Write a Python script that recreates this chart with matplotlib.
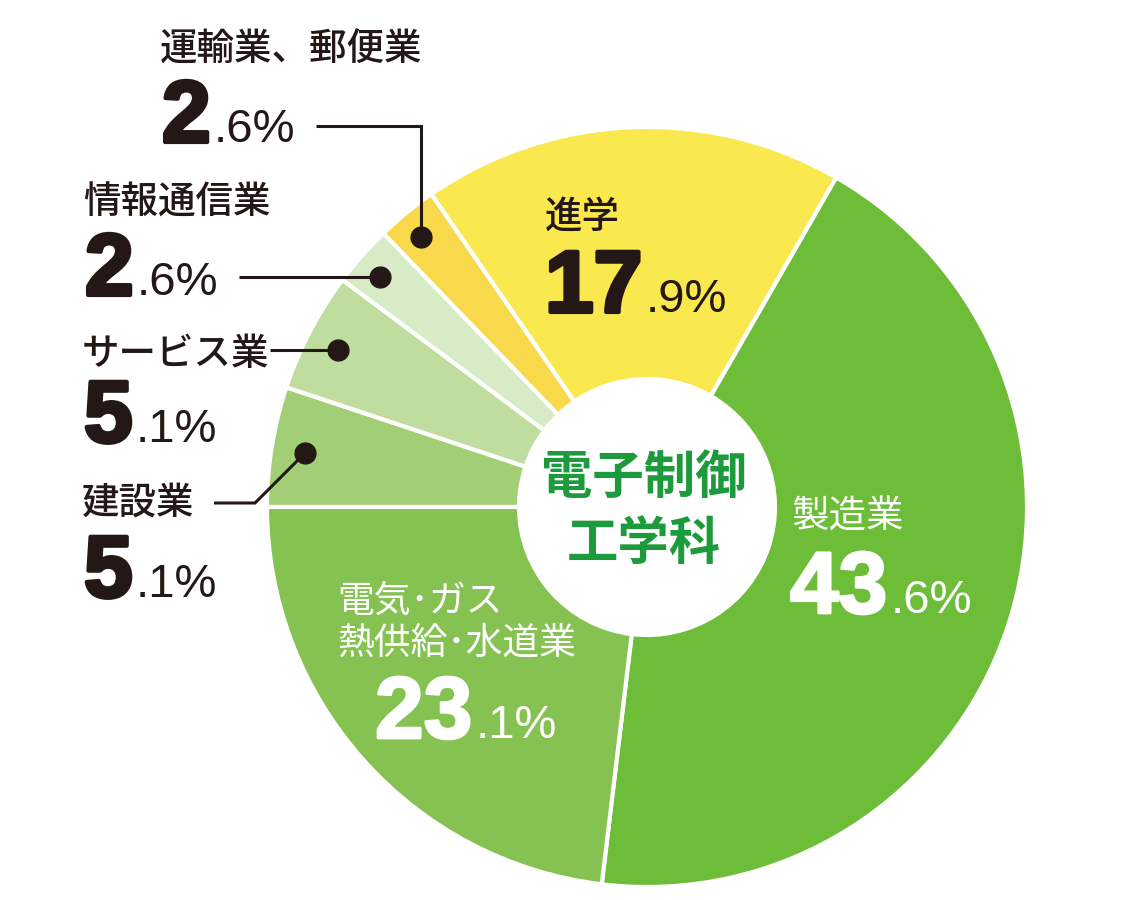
import matplotlib
matplotlib.use('Agg')
from matplotlib import pyplot as plt
from matplotlib import patheffects as pe

# data (clockwise from 9 o'clock)
labels = ['建設業', 'サービス業', '情報通信業', '運輸業、郵便業', '進学', '製造業', '電気･ガス\n熱供給･水道業']
values = [5.1, 5.1, 2.6, 2.6, 17.9, 43.6, 23.1]
colors = ['#a2cf76', '#bedd9e', '#d8ebc7', '#f8d94b', '#f9e84e', '#6dbd38', '#86c252']
center_title = ['電子制御', '工学科']

W, H = 1125, 900
CJK = ['Noto Sans CJK JP', 'DejaVu Sans']
DARK = '#231815'
GREEN = '#1d9a3c'


def Y(y):
    # picture rows -> data y
    return H - y


fig = plt.figure(figsize=(W / 100, H / 100), dpi=100)
ax = fig.add_axes([0, 0, 1, 1])

cx, cy, R, r_in = 647, 507, 380, 128
ax.pie(values, colors=colors, startangle=180, counterclock=False,
       radius=R, center=(cx, Y(cy)),
       wedgeprops=dict(width=R - r_in, edgecolor='white', linewidth=3))
ax.set_xlim(0, W)
ax.set_ylim(0, H)
ax.set_aspect('equal')
ax.axis('off')


def pct(x, base, value, color, stroke=3):
    big, small = '{:.1f}%'.format(value).split('.')
    t = ax.text(x, Y(base), big, fontsize=63, fontweight='bold', family='Liberation Sans',
                color=color, ha='left', va='baseline')
    t.set_path_effects([pe.Stroke(linewidth=stroke, foreground=color), pe.Normal()])
    fig.canvas.draw()
    bb = t.get_window_extent()
    x1 = ax.transData.inverted().transform((bb.x1, bb.y0))[0]
    ax.text(x1 + 3, Y(base), '.' + small, fontsize=34, family='Liberation Sans',
            color=color, ha='left', va='baseline')


def label(x, yc, s, color=DARK, size=27, weight='medium'):
    ax.text(x, Y(yc), s, fontsize=size, family=CJK, fontweight=weight,
            color=color, ha='left', va='center', linespacing=1.1)


def leader(pts):
    xs = [p[0] for p in pts]
    ys = [Y(p[1]) for p in pts]
    ax.plot(xs, ys, color=DARK, lw=2.2, solid_capstyle='butt', solid_joinstyle='miter')
    ax.plot(xs[-1], ys[-1], 'o', color=DARK, ms=15)


# outside labels
label(160, 50, labels[3])
pct(162, 142, values[3], DARK)
leader([(316, 126), (421, 126), (421, 237)])

label(83, 203, labels[2])
pct(85, 295, values[2], DARK)
leader([(239, 277), (380, 277)])

label(82, 354, labels[1])
pct(84, 442, values[1], DARK)
leader([(270, 350), (338, 350)])

label(82, 503, labels[0])
pct(84, 597, values[0], DARK)
leader([(214, 503), (255, 503), (305, 453)])

# inside labels
label(545, 217, labels[4])
pct(545, 312, values[4], DARK)

label(792, 517, labels[5], color='white', weight='regular')
pct(790, 613, values[5], 'white', stroke=2)

label(337, 622, labels[6], color='white', size=26.5, weight='regular')
pct(375, 738, values[6], 'white', stroke=2)

# center title
ax.text(cx - 3, Y(477), center_title[0], fontsize=37, family=CJK, fontweight='bold',
        color=GREEN, ha='center', va='center')
ax.text(cx - 3, Y(543), center_title[1], fontsize=37, family=CJK, fontweight='bold',
        color=GREEN, ha='center', va='center')

plt.savefig('out.png', dpi=100)
